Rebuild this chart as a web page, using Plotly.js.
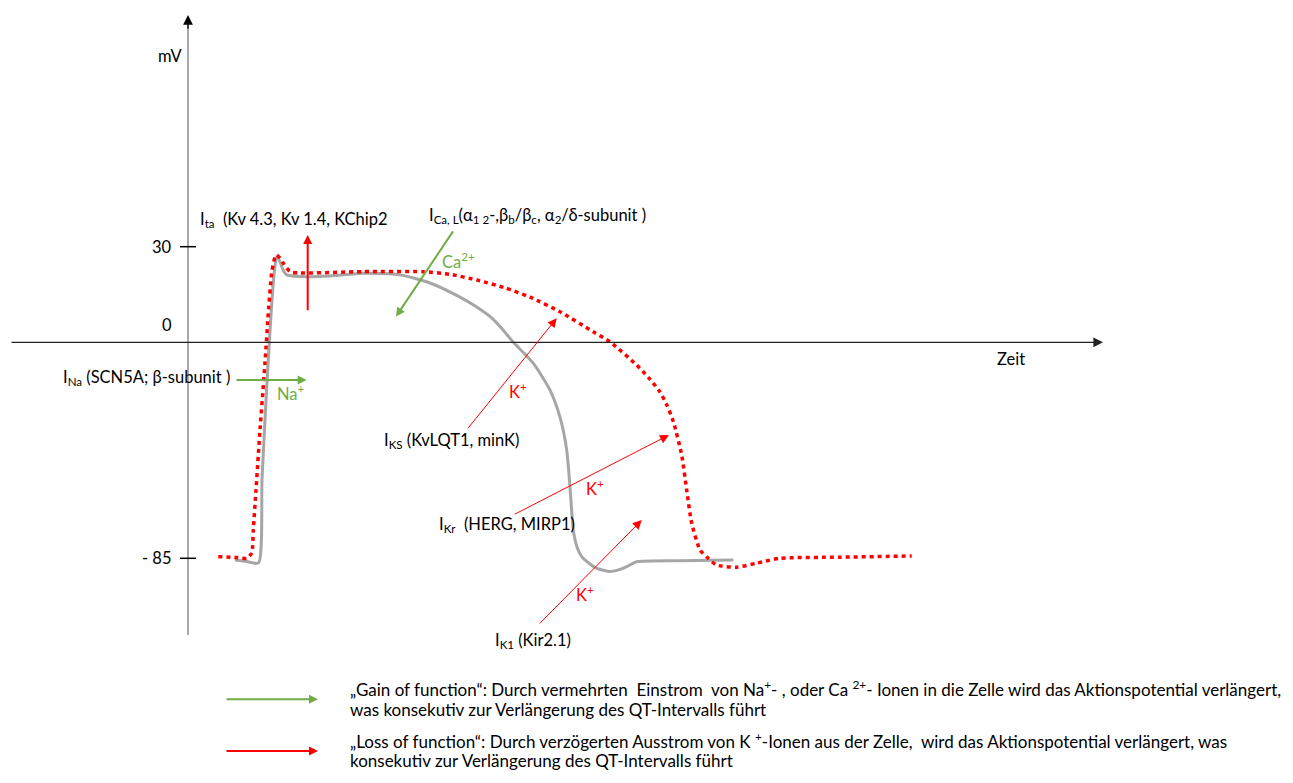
<!DOCTYPE html>
<html>
<head>
<meta charset="utf-8">
<script src="https://cdn.plot.ly/plotly-3.0.1.min.js"></script>
<style>html,body{margin:0;padding:0;background:#fff;}#chart{width:1293px;height:783px;}</style>
</head>
<body>
<div id="chart"></div>
<script>
// ---- data (time in arbitrary units, membrane potential in mV) ----
const normalTime = [235, 247, 258.5, 262, 265.5, 268, 271, 274, 276.7, 280, 283, 286.7, 300, 330, 363, 400, 430, 460, 476, 493, 503, 513, 533, 550, 560, 566.7, 570, 573.3, 577, 581.7, 590, 596.7, 610, 620, 626.7, 636.7, 680, 733.3];
const normalVolt = [-85.6, -86.2, -86.7, -56.1, -30.3, -13.7, 4.8, 19.6, 26.3, 24.4, 21.4, 19.6, 19.0, 19.2, 20.2, 19.6, 16.6, 11.4, 7.9, 3.3, -0.7, -5.1, -12.9, -22.9, -32.9, -45.0, -58.7, -74.6, -80.8, -84.4, -87.1, -88.7, -89.9, -89.1, -88.1, -86.3, -85.9, -85.6];

const longTime = [218.3, 235, 246.7, 251.7, 253.3, 256, 260, 265, 268.3, 271.7, 275, 276.7, 280, 283.3, 290, 300, 363, 423, 450, 478, 505, 530, 560, 593.3, 610, 636.7, 648.5, 660, 667, 673.3, 681.7, 686.7, 691.7, 700, 706.7, 716.7, 736.7, 756.7, 780, 840, 911.7];
const longVolt = [-84.4, -84.7, -85.0, -83.0, -74.6, -59.8, -37.6, -12.9, 5.5, 20.3, 26.2, 26.9, 25.8, 23.9, 20.8, 20.3, 20.8, 20.8, 19.8, 17.6, 14.8, 11.4, 6.0, -1.4, -5.1, -13.7, -18.3, -23.6, -28.6, -34.5, -46.9, -59.8, -72.1, -81.9, -84.5, -87.5, -88.3, -86.8, -85.0, -84.6, -84.15];

const tickVals = [30, 0, -85];
const tickText = ['30', '0', '- 85'];
const tickMarks = [30, -85];

const axisLabelY = 'mV';
const axisLabelX = 'Zeit';

const GREEN = '#70AD47';
const RED = '#FF0000';
const FONT = 'Lato, "Open Sans", sans-serif';
const FS = 16.5;

const traces = [
  {x: normalTime, y: normalVolt, mode: 'lines', line: {color: '#A6A6A6', width: 3, shape: 'spline', smoothing: 0.6}, hoverinfo: 'skip'},
  {x: longTime, y: longVolt, mode: 'lines', line: {color: RED, width: 3.5, dash: '4px,4px', shape: 'spline', smoothing: 0.6}, hoverinfo: 'skip'}
];

const ann = [];
function arrow(x, y, ax, ay, color, width, size) {
  ann.push({x: x, y: y, ax: ax, ay: ay, xref: 'x', yref: 'y', axref: 'x', ayref: 'y',
    text: '', showarrow: true, arrowhead: 2, arrowcolor: color, arrowwidth: width, arrowsize: size, standoff: 0, startstandoff: 0});
}
function label(x, y, text, anchor, color, size, yshift) {
  ann.push({x: x, y: y, xref: 'x', yref: 'y', text: text, showarrow: false, xanchor: anchor || 'left', yanchor: 'middle',
    yshift: yshift || 0, align: 'left', font: {family: FONT, size: size || FS, color: color || '#000'}});
}

// axes arrows
arrow(188, 115.5, 188, 110, '#000', 1.5, 1.3);
arrow(1103, -5.3, 10, -5.3, '#222', 1.2, 1.6);

// tick labels
tickVals.forEach((v, i) => ann.push({x: 174, y: v, xref: 'x', yref: 'y', yshift: v === 0 ? 3 : 0, text: tickText[i], showarrow: false,
  xanchor: 'right', yanchor: 'middle', font: {family: FONT, size: FS, color: '#000'}}));
label(184, 100.4, axisLabelY, 'right');
label(1011, -11.3, axisLabelX, 'center');

// current arrows
arrow(307.7, 34.3, 307.7, 6.0, RED, 2, 0.9);
arrow(396, 4.2, 454, 36.2, GREEN, 2, 0.9);
arrow(306.7, -19.2, 235, -19.2, GREEN, 2, 0.9);
arrow(556.7, 3.6, 466.7, -37.6, RED, 1, 1.8);
arrow(669, -39.5, 513.3, -69.0, RED, 1, 1.8);
arrow(641.7, -70.9, 538.3, -109.6, RED, 1, 1.8);

// labels
label(198, 40.2, 'I<sub>ta</sub>  (Kv 4.3, Kv 1.4, KChip2');
label(427, 41.7, 'I<sub>Ca, L</sub>(α<sub>1 2</sub>-,β<sub>b</sub>/β<sub>c</sub>, α<sub>2</sub>/δ-subunit )');
label(440, 24.7, 'Ca<sup>2+</sup>', 'left', GREEN);
label(232, -18.1, 'I<sub>Na</sub> (SCN5A; β-subunit )', 'right');
label(275, -24.0, 'Na<sup>+</sup>', 'left', GREEN);
label(518, -23.3, 'K<sup>+</sup>', 'center', RED);
label(382, -41.7, 'I<sub>KS</sub> (KvLQT1, minK)');
label(595, -59.1, 'K<sup>+</sup>', 'center', RED);
label(437, -72.7, 'I<sub>Kr</sub>  (HERG, MIRP1)');
label(585, -98.2, 'K<sup>+</sup>', 'center', RED);
label(493, -115.5, 'I<sub>K1</sub> (Kir2.1)');

// legend
const LFS = 17;
arrow(318, -137.0, 225, -137.0, GREEN, 2, 0.9);
arrow(318, -156.1, 225, -156.1, RED, 2, 0.9);
label(348, -134.0, '„Gain of function“: Durch vermehrten  Einstrom  von Na<sup>+</sup>- , oder Ca <sup>2+</sup>- Ionen in die Zelle wird das Aktionspotential verlängert,', 'left', '#000', LFS, 3);
label(348, -140.6, 'was konsekutiv zur Verlängerung des QT-Intervalls führt', 'left', '#000', LFS, -1);
label(348, -153.2, '„Loss of function“: Durch verzögerten Ausstrom von K <sup>+</sup>-Ionen aus der Zelle,  wird das Aktionspotential verlängert, was', 'left', '#000', LFS, 3);
label(348, -159.4, 'konsekutiv zur Verlängerung des QT-Intervalls führt', 'left', '#000', LFS, -1);

const shapes = [
  {type: 'line', xref: 'x', yref: 'y', x0: 188, x1: 188, y0: -113.3, y1: 111, line: {color: '#8C8C8C', width: 1.5}}
];
tickMarks.forEach(v => shapes.push({type: 'line', xref: 'x', yref: 'y', x0: 180, x1: 196, y0: v, y1: v, line: {color: '#000', width: 1.5}}));

const layout = {
  width: 1293, height: 783,
  margin: {l: 0, r: 0, t: 0, b: 0},
  paper_bgcolor: '#fff', plot_bgcolor: '#fff',
  showlegend: false,
  xaxis: {range: [0, 1293], visible: false, fixedrange: true},
  yaxis: {range: [-167.93, 121.05], visible: false, fixedrange: true},
  annotations: ann,
  shapes: shapes
};

Plotly.newPlot('chart', traces, layout, {staticPlot: true, displayModeBar: false});
</script>
</body>
</html>
